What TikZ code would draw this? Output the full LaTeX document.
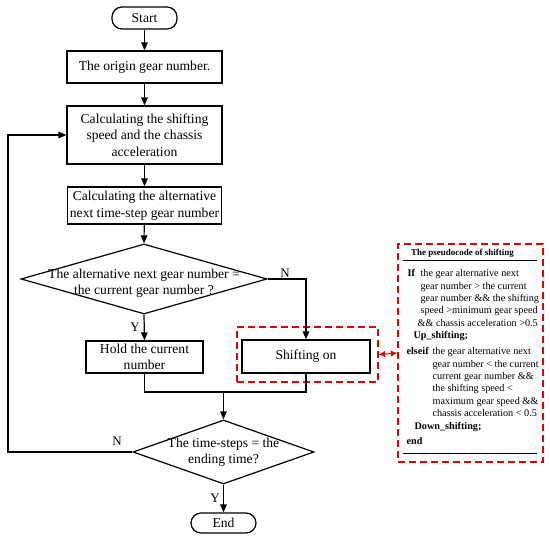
\documentclass[tikz,border=0pt]{standalone}
\usepackage{fontspec}
\setmainfont{Liberation Serif}
\usetikzlibrary{arrows.meta,shapes.geometric}
\begin{document}
\begin{tikzpicture}[x=1pt,y=-1pt,
  line width=1.2pt,
  every node/.style={inner sep=0pt},
  mainfont/.style={font=\fontsize{13.6}{16.5}\selectfont},
  proc/.style={draw,mainfont,align=center,line width=1.2pt},
  term/.style={draw,mainfont,rounded corners=10pt,line width=1.2pt},
  dia/.style={draw,diamond,line width=1.2pt},
  arr/.style={-{Triangle[length=8pt,width=6.5pt]}},
  lab/.style={font=\fontsize{13}{15}\selectfont},
  redbox/.style={draw=red!90!black,dash pattern=on 7pt off 4pt,line width=1.2pt},
  pc/.style={anchor=base west,font=\fontsize{10.2}{12}\selectfont},
  pcb/.style={anchor=base west,font=\fontsize{10.2}{12}\selectfont\bfseries},
]
\useasboundingbox (0,0) rectangle (550,538);
% flowchart
\node[term,minimum width=65pt,minimum height=22pt] (s) at (144.5,18) {Start};
\node[proc,minimum width=155pt,minimum height=32pt] (b1) at (144.5,67) {The origin gear number.};
\node[proc,minimum width=155pt,minimum height=58pt] (b2) at (144.5,135) {Calculating the shifting\\speed and the chassis\\acceleration};
\node[proc,minimum width=154pt,minimum height=37pt] (b3) at (144.5,205.5) {Calculating the alternative\\next time-step gear number};
\node[dia,minimum width=246pt,minimum height=70pt] (d1) at (144,279) {};
\node[mainfont,align=center] (d1t) at (144,283) {The alternative next gear number =\\the current gear number ?};
\node[proc,minimum width=117pt,minimum height=32pt] (hold) at (144.5,357) {Hold the current\\number};
\node[proc,minimum width=128pt,minimum height=33pt] (shift) at (306,356.5) {Shifting on};
\node[redbox,minimum width=141pt,minimum height=55pt] (rs) at (307.5,354.5) {};
\node[dia,minimum width=181pt,minimum height=64pt] (d2) at (223.5,452) {};
\node[mainfont,align=center] (d2t) at (223.5,452) {The time-steps = the\\ending time?};
\node[term,minimum width=65pt,minimum height=20pt] (e) at (223.5,523) {End};
% labels
\node[lab] (ln1) at (285,273) {N};
\node[lab] (ly1) at (135,327) {Y};
\node[lab] (ln2) at (117,441) {N};
\node[lab] (ly2) at (215,498) {Y};
% connectors
\draw[arr] (s) -- (b1);
\draw[arr] (b1) -- (b2);
\draw[arr] (b2) -- (b3);
\draw[arr] (b3) -- (d1.north);
\draw[arr] (d1.south) -- (hold.north);
\draw[arr] (d1.east) -| (shift.north);
\coordinate (m) at (223.5,392);
\draw (hold.south) |- (m) -| (shift.south);
\draw[arr] (m) -- (d2.north);
\coordinate (lp) at (8,452);
\draw[arr] (d2.west) -- (lp) |- (b2.west);
\draw[arr] (d2.south) -- (e.north);
% pseudocode box
\node[redbox,minimum width=145pt,minimum height=218pt] (pb) at (470.5,353) {};
\draw[red!90!black,line width=1pt,{Latex[length=6.5pt,width=6.5pt]}-{Latex[length=6.5pt,width=6.5pt]}] (rs.east) -- (pb.west);
\node[font=\fontsize{9}{11}\selectfont\bfseries] (pt) at (462.5,253) {The pseudocode of shifting};
\coordinate (l1a) at (403,260); \coordinate (l1b) at (537,260);
\draw[line width=0.9pt] (l1a) -- (l1b);
\node[pcb] (p1) at (407,276.5) {If};
\node[pc] (p1b) at (420,276.5) {the gear alternative next};
\node[pc] (p2) at (420,289) {gear number > the current};
\node[pc] (p3) at (420,301.5) {gear number \&\& the shifting};
\node[pc] (p4) at (420,313.5) {speed >minimum gear speed};
\node[pc] (p5) at (417,326) {\&\& chassis acceleration >0.5};
\node[pcb] (p6) at (413,338.5) {Up\_shifting;};
\node[pcb] (p7) at (406,354.5) {elseif};
\node[pc] (p7b) at (432,354.5) {the gear alternative next};
\node[pc] (p8) at (432,367) {gear number < the current};
\node[pc] (p9) at (432,379.5) {current gear number \&\&};
\node[pc] (p10) at (432,391.5) {the shifting speed <};
\node[pc] (p11) at (432,404) {maximum gear speed \&\&};
\node[pc] (p12) at (432,416.5) {chassis acceleration < 0.5};
\node[pcb] (p13) at (414,429.5) {Down\_shifting;};
\node[pcb] (p14) at (406,444.5) {end};
\coordinate (l2a) at (403,453); \coordinate (l2b) at (537,453);
\draw[line width=0.9pt] (l2a) -- (l2b);
\end{tikzpicture}
\end{document}
